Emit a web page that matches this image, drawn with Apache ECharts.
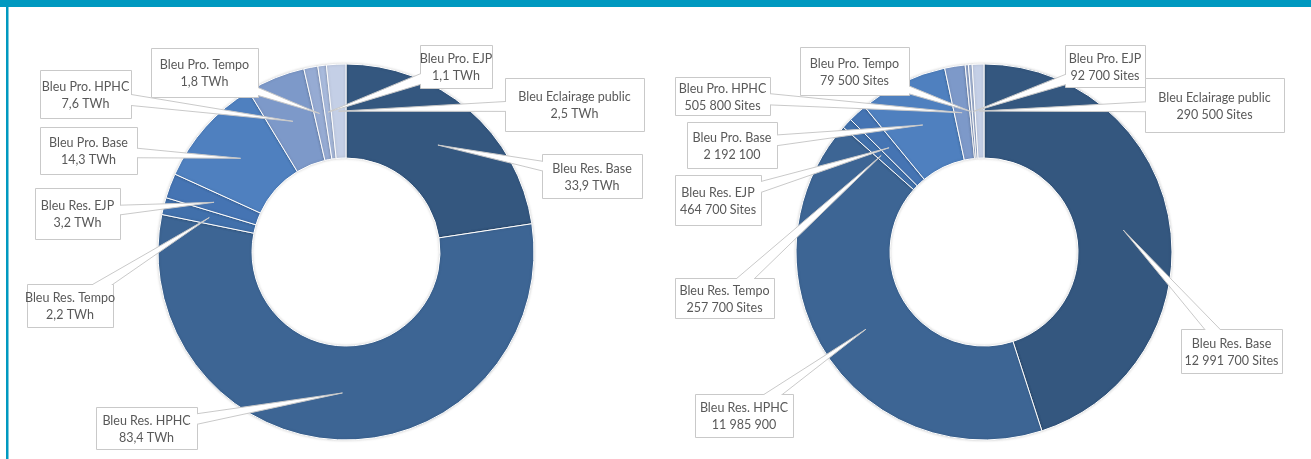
<!DOCTYPE html>
<html>
<head>
<meta charset="utf-8">
<script src="https://cdn.jsdelivr.net/npm/echarts@6/dist/echarts.min.js"></script>
<style>
  html, body { margin: 0; padding: 0; background: #fff; }
  #main { width: 1311px; height: 459px; }
</style>
</head>
<body>
<div id="main"></div>
<script>
// categories, clockwise from 12 o'clock
const categories = ['Bleu Res. Base', 'Bleu Res. HPHC', 'Bleu Res. Tempo', 'Bleu Res. EJP', 'Bleu Pro. Base',
  'Bleu Pro. HPHC', 'Bleu Pro. Tempo', 'Bleu Pro. EJP', 'Bleu Eclairage public'];
const energyTWh = [33.9, 83.4, 2.2, 3.2, 14.3, 7.6, 1.8, 1.1, 2.5];
const sites = [12991700, 11985900, 257700, 464700, 2192100, 505800, 79500, 92700, 290500];
// the source omits the "Sites" unit on two of the labels
const sitesUnitShown = [true, false, true, true, false, true, true, true, true];

const sliceColors = ['#34577f', '#3d6594', '#4170ab', '#4574b3', '#4f80bf', '#7d99c9', '#96abd3', '#a8badc', '#c4cfe6'];

// callout boxes [x, y, width, height]
const leftBoxes = [
  [542, 154, 100, 44], [96, 407, 101, 42], [27, 284, 86, 43], [35, 188, 85, 51], [40, 127, 97, 47],
  [40, 70, 91, 48], [151, 48, 107, 49], [420, 45, 72, 43], [505, 78, 139, 53]
];
const rightBoxes = [
  [1181, 329, 101, 44], [695, 394, 98, 43], [675, 278, 99, 40], [675, 175, 86, 50], [687, 122, 90, 46],
  [675, 77, 95, 38], [800, 47, 109, 48], [1065, 45, 80, 42], [1145, 78, 139, 54]
];

function fmtTWh(v) { return v.toFixed(1).replace('.', ',') + ' TWh'; }
function fmtSites(v, unit) {
  let s = String(v).replace(/\B(?=(\d{3})+(?!\d))/g, ' ');
  return unit ? s + ' Sites' : s;
}

const chart = echarts.init(document.getElementById('main'));

function pieSeries(center, values) {
  return {
    type: 'pie',
    center: center,
    radius: [94, 188],
    startAngle: 90,
    clockwise: true,
    silent: true,
    label: { show: false },
    labelLine: { show: false },
    itemStyle: { borderColor: '#ffffff', borderWidth: 1, shadowBlur: 3, shadowColor: 'rgba(0,0,0,0.18)' },
    data: categories.map((name, i) => ({ name: name, value: values[i], itemStyle: { color: sliceColors[i] } }))
  };
}

let option = {
  animation: false,
  series: [
    pieSeries([346, 252], energyTWh),
    pieSeries([984, 252], sites)
  ]
};
chart.setOption(option);

// callouts: box + white wedge pointing into the slice
function callouts(seriesIndex, boxes, texts, zBase) {
  const data = chart.getModel().getSeriesByIndex(seriesIndex).getData();
  const els = [];
  data.each(function (i) {
    const lay = data.getItemLayout(i);
    const mid = (lay.startAngle + lay.endAngle) / 2;
    const rr = (lay.r0 + lay.r) / 2;
    const tip = [lay.cx + rr * Math.cos(mid), lay.cy + rr * Math.sin(mid)];
    const b = boxes[i];
    const c = [b[0] + b[2] / 2, b[1] + b[3] / 2];
    let dx = c[0] - tip[0], dy = c[1] - tip[1];
    const len = Math.sqrt(dx * dx + dy * dy);
    dx /= len; dy /= len;
    const half = 7;
    const p1 = [c[0] - dy * half, c[1] + dx * half];
    const p2 = [c[0] + dy * half, c[1] - dx * half];
    const z2 = zBase + i * 4;
    els.push({
      type: 'rect', z: 10, z2: z2, silent: true,
      shape: { x: b[0] + 0.5, y: b[1] + 0.5, width: b[2], height: b[3] },
      style: { fill: '#ffffff', stroke: '#c9c9c9', lineWidth: 1 }
    });
    els.push({
      type: 'polygon', z: 10, z2: z2 + 1, silent: true,
      shape: { points: [tip, p1, p2] },
      style: { fill: '#ffffff', stroke: '#c9c9c9', lineWidth: 1 }
    });
    els.push({
      type: 'rect', z: 10, z2: z2 + 2, silent: true,
      shape: { x: b[0] + 1, y: b[1] + 1, width: b[2] - 1, height: b[3] - 1 },
      style: { fill: '#ffffff' }
    });
    els.push({
      type: 'text', z: 10, z2: z2 + 3, silent: true,
      x: c[0], y: c[1] + 1,
      style: {
        text: texts[i],
        fill: '#595959',
        font: '12.5px Lato',
        align: 'center', verticalAlign: 'middle',
        textAlign: 'center', textVerticalAlign: 'middle',
        lineHeight: 17
      }
    });
  });
  return els;
}

const leftTexts = categories.map((n, i) => n + '\n' + fmtTWh(energyTWh[i]));
const rightTexts = categories.map((n, i) => n + '\n' + fmtSites(sites[i], sitesUnitShown[i]));

let graphics = [
  { type: 'rect', z: 20, silent: true, shape: { x: 0, y: 0, width: 1311, height: 7 }, style: { fill: '#0099c0' } },
  { type: 'rect', z: 20, silent: true, shape: { x: 6, y: 0, width: 2.5, height: 459 }, style: { fill: '#0099c0' } }
];
graphics = graphics.concat(callouts(0, leftBoxes, leftTexts, 0), callouts(1, rightBoxes, rightTexts, 100));

chart.setOption({ graphic: graphics });
</script>
</body>
</html>
